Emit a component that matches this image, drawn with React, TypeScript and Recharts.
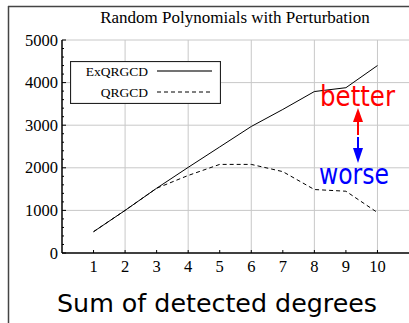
import React from 'react'
import { LineChart, Line, XAxis, YAxis, ReferenceLine, Legend } from 'recharts'

// sum of detected degrees
const degrees = [1, 2, 3, 4, 5, 6, 7, 8, 9, 10]
const exqrgcd = [500, 1000, 1520, 2010, 2490, 2970, 3370, 3790, 3880, 4400]
const qrgcd = [500, 1000, 1520, 1820, 2080, 2080, 1910, 1490, 1450, 950]

const xTicks = [1, 2, 3, 4, 5, 6, 7, 8, 9, 10]
const xGrid = [2, 4, 6, 8, 10]
const yGrid = [1000, 2000, 3000, 4000, 5000]
const yMajor = [0, 1000, 2000, 3000, 4000, 5000]
const yTicks = Array.from({ length: 26 }, (_, i) => i * 200)

const seriesNames = { ex: 'ExQRGCD', qr: 'QRGCD' }

const rows = degrees.map((d, i) => ({ deg: d, ex: exqrgcd[i], qr: qrgcd[i] }))

const serif = '"Liberation Serif", "Times New Roman", serif'
const sans = '"DejaVu Sans", sans-serif'

const AXIS_X = 62
const AXIS_Y = 253

function XTick({ x, y, payload }: any) {
  return (
    <g>
      <line x1={x} x2={x} y1={AXIS_Y} y2={AXIS_Y - 3} stroke="#000" strokeWidth={1} />
      <text x={x} y={y + 19} textAnchor="middle" fontFamily={serif} fontSize={16.5} fill="#000">
        {payload.value}
      </text>
    </g>
  )
}

function YTick({ x, y, payload }: any) {
  const major = yMajor.includes(payload.value)
  return (
    <g>
      <line x1={AXIS_X} x2={AXIS_X + (major ? 4 : 2)} y1={y} y2={y} stroke="#000" strokeWidth={1} />
      {major && (
        <text x={x} y={y + 5.5} textAnchor="end" fontFamily={serif} fontSize={16.5} fill="#000">
          {payload.value}
        </text>
      )}
    </g>
  )
}

function LegendBox() {
  const items = [
    { name: seriesNames.ex, dash: undefined, color: '#444', w: 1.5 },
    { name: seriesNames.qr, dash: '4 3', color: '#000', w: 1 },
  ]
  return (
    <svg width={151} height={43} style={{ display: 'block' }}>
      <rect x={0.5} y={0.5} width={150} height={42} fill="#fff" stroke="#222" strokeWidth={1.2} />
      {items.map((it, i) => (
        <g key={it.name}>
          <text x={78} y={15 + i * 21} textAnchor="end" fontFamily={serif} fontSize={13.5} fill="#000">
            {it.name}
          </text>
          <line x1={87} x2={142} y1={10 + i * 21} y2={10 + i * 21} stroke={it.color} strokeWidth={it.w} strokeDasharray={it.dash} />
        </g>
      ))}
    </svg>
  )
}

export default function App() {
  return (
    <div style={{ position: 'fixed', left: 0, top: 0, width: 409, height: 323, background: '#fff' }}>
      <LineChart width={409} height={323} data={rows} margin={{ top: 40, right: 0, bottom: 40, left: 0 }}>
        {xGrid.map((v) => (
          <ReferenceLine key={'x' + v} x={v} stroke="#c8c8c8" strokeWidth={1} />
        ))}
        {yGrid.map((v) => (
          <ReferenceLine key={'y' + v} y={v} stroke="#c8c8c8" strokeWidth={1} />
        ))}
        <XAxis
          dataKey="deg"
          type="number"
          domain={[0, 11]}
          ticks={xTicks}
          height={30}
          tickSize={0}
          tickMargin={0}
          tickLine={false}
          axisLine={{ stroke: '#000', strokeWidth: 1.5 }}
          tick={<XTick />}
          interval={0}
          allowDataOverflow
        />
        <YAxis
          type="number"
          domain={[0, 5000]}
          ticks={yTicks}
          width={62}
          tickSize={0}
          tickMargin={4}
          tickLine={false}
          axisLine={{ stroke: '#000', strokeWidth: 1.5 }}
          tick={<YTick />}
          interval={0}
          allowDataOverflow
        />
        <Legend
          layout="vertical"
          verticalAlign="middle"
          align="center"
          wrapperStyle={{ left: 70, top: 61, width: 151, height: 43 }}
          content={() => <LegendBox />}
        />
        <Line dataKey="ex" name={seriesNames.ex} stroke="#000" strokeWidth={1} dot={false} isAnimationActive={false} />
        <Line dataKey="qr" name={seriesNames.qr} stroke="#000" strokeWidth={1} strokeDasharray="4 3" dot={false} isAnimationActive={false} />
      </LineChart>
      <svg width={409} height={323} style={{ position: 'absolute', left: 0, top: 0, pointerEvents: 'none' }}>
        <line x1={8} x2={409} y1={6.5} y2={6.5} stroke="#444" strokeWidth={1.5} />
        <line x1={8.5} x2={8.5} y1={6} y2={323} stroke="#444" strokeWidth={1.5} />
        <text x={235} y={23} textAnchor="middle" fontFamily={serif} fontSize={17} fill="#000">
          Random Polynomials with Perturbation
        </text>
        <text x={320} y={106} fontFamily={sans} fontSize={29} fill="#ff0000" textLength={75} lengthAdjust="spacingAndGlyphs">
          better
        </text>
        <rect x={357} y={121} width={2} height={14} fill="#ff0000" />
        <polygon points="353,122 363,122 358,108" fill="#ff0000" />
        <rect x={357} y={137} width={2} height={12} fill="#0000ff" />
        <polygon points="353,148 363,148 358,163" fill="#0000ff" />
        <text x={319} y={184} fontFamily={sans} fontSize={29} fill="#0000ff" textLength={70} lengthAdjust="spacingAndGlyphs">
          worse
        </text>
        <text x={57} y={312} fontFamily={sans} fontSize={25.5} fill="#000" textLength={320} lengthAdjust="spacingAndGlyphs">
          Sum of detected degrees
        </text>
      </svg>
    </div>
  )
}
